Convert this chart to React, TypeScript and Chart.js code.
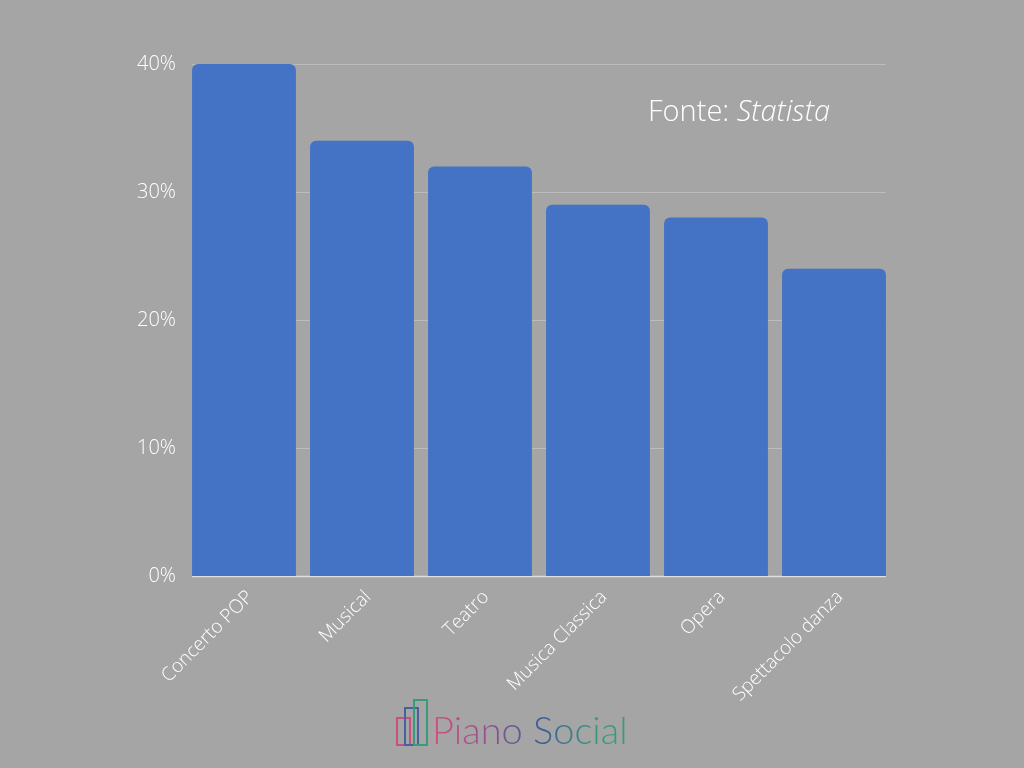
import React, { useEffect, useRef } from "react";
import { Chart, registerables } from "chart.js";

Chart.register(...registerables);

const categories = ["Concerto POP", "Musical", "Teatro", "Musica Classica", "Opera", "Spettacolo danza"];
const values = [40, 34, 32, 29, 28, 24];
const yTicks = [0, 10, 20, 30, 40];

const BG = "#a5a5a5";

const gridPlugin = {
  id: "customGrid",
  beforeDatasetsDraw(chart: any) {
    const meta = chart.getDatasetMeta(0);
    const first = meta.data[0];
    const last = meta.data[meta.data.length - 1];
    const left = first.x - first.width / 2;
    const right = last.x + last.width / 2;
    const y = chart.scales.y;
    const ctx = chart.ctx;
    ctx.save();
    yTicks.forEach((v) => {
      const py = Math.round(y.getPixelForValue(v)) + 0.5;
      ctx.beginPath();
      ctx.strokeStyle = v === 0 ? "#dedede" : "#bcbcbc";
      ctx.lineWidth = v === 0 ? 1.5 : 1;
      ctx.moveTo(left, py);
      ctx.lineTo(right, py);
      ctx.stroke();
    });
    ctx.restore();
  },
};

export default function App() {
  const ref = useRef<HTMLCanvasElement>(null);
  useEffect(() => {
    if (!ref.current) return;
    const chart = new Chart(ref.current, {
      type: "bar",
      data: {
        labels: categories,
        datasets: [
          {
            data: values,
            backgroundColor: "#4472C4",
            borderRadius: { topLeft: 6, topRight: 6, bottomLeft: 0, bottomRight: 0 },
            borderSkipped: "bottom",
            categoryPercentage: 1,
            barPercentage: 0.88,
          },
        ],
      },
      options: {
        responsive: false,
        animation: false,
        layout: { padding: { left: 136, right: 131, top: 64, bottom: 60 } },
        plugins: { legend: { display: false }, tooltip: { enabled: false } },
        scales: {
          x: {
            grid: { display: false },
            border: { display: false },
            ticks: {
              color: "#ffffff",
              font: { family: "'Open Sans'", size: 19, weight: "300" },
              maxRotation: 45,
              minRotation: 45,
              padding: 2,
              labelOffset: 6,
            },
          },
          y: {
            min: 0,
            max: 40,
            afterBuildTicks: (s: any) => {
              s.ticks = yTicks.map((v) => ({ value: v }));
            },
            grid: { display: false },
            border: { display: false },
            ticks: {
              color: "#ffffff",
              font: { family: "'Open Sans'", size: 20, weight: "300" },
              padding: 1,
              callback: (v: any) => v + "%",
            },
          },
        },
      },
      plugins: [gridPlugin],
    });
    return () => chart.destroy();
  }, []);

  return (
    <div style={{ position: "absolute", left: 0, top: 0, width: 1024, height: 768, background: BG, overflow: "hidden" }}>
      <canvas ref={ref} width={1024} height={768} style={{ position: "absolute", left: 0, top: 0 }} />
      <div
        style={{
          position: "absolute",
          left: 648,
          top: 90,
          fontFamily: "'Open Sans'",
          fontWeight: 300,
          fontSize: 29,
          lineHeight: "40px",
          color: "#ffffff",
          whiteSpace: "nowrap",
        }}
      >
        Fonte: <span style={{ fontStyle: "italic" }}>Statista</span>
      </div>
      <svg style={{ position: "absolute", left: 394, top: 698 }} width={40} height={52}>
        <rect x={3} y={20} width={13} height={27} fill="none" stroke="#c8507f" strokeWidth={2} />
        <rect x={11} y={10} width={13} height={37} fill="none" stroke="#4a5fa0" strokeWidth={2} />
        <rect x={20} y={2} width={13} height={45} fill="none" stroke="#3a9a7a" strokeWidth={2} />
      </svg>
      <div
        style={{
          position: "absolute",
          left: 432,
          top: 706,
          fontFamily: "Lato",
          fontWeight: 300,
          fontSize: 38,
          whiteSpace: "nowrap",
          background: "linear-gradient(90deg, #d0507e 0%, #a0508f 25%, #3d5a9a 55%, #3a9a7a 85%)",
          WebkitBackgroundClip: "text",
          backgroundClip: "text",
          color: "transparent",
        }}
      >
        Piano Social
      </div>
    </div>
  );
}
